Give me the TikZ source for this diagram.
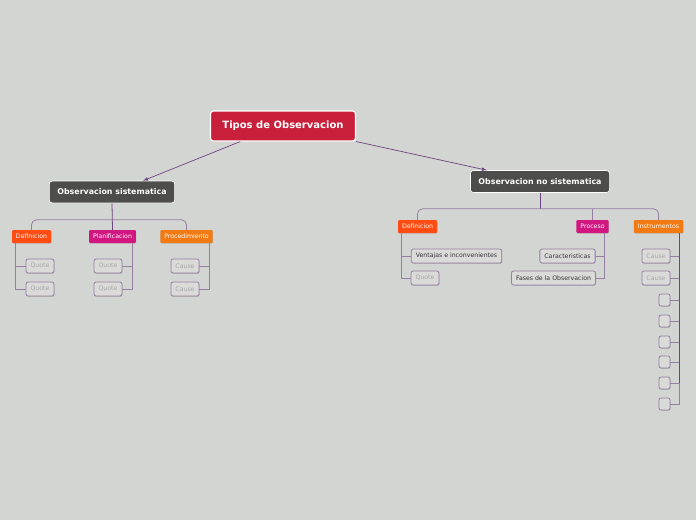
\documentclass[tikz,border=0pt]{standalone}
\usepackage{fontspec}
\setmainfont{DejaVu Sans}
\usetikzlibrary{shadows}

\definecolor{bgcol}{HTML}{D3D5D2}
\definecolor{rootcol}{HTML}{C8203A}
\definecolor{darkcol}{HTML}{4D4D4B}
\definecolor{defcol}{HTML}{FF4C12}
\definecolor{magcol}{HTML}{D1167F}
\definecolor{orgcol}{HTML}{F17A12}
\definecolor{linecol}{HTML}{6E4480}
\definecolor{leafcol}{HTML}{957FA3}
\definecolor{greytext}{HTML}{A6A6A6}
\definecolor{darktext}{HTML}{333333}

\tikzset{
  root/.style={draw=white, line width=1.2pt, fill=rootcol, rounded corners=3pt,
    text=white, font=\bfseries\fontsize{10}{12}\selectfont,
    minimum height=30, inner xsep=12pt},
  maintopic/.style={draw=white, line width=0.6pt, fill=darkcol, rounded corners=3pt,
    text=white, font=\bfseries\fontsize{7.9}{9}\selectfont,
    minimum height=22, inner xsep=8pt},
  subtopic/.style={rounded corners=1pt, text=white,
    font=\fontsize{6.2}{7}\selectfont, minimum height=13, inner xsep=4pt, inner ysep=0pt,
    drop shadow={shadow xshift=0.5pt, shadow yshift=-0.7pt, opacity=0.3}},
  leaf/.style={draw=leafcol, line width=0.8pt, fill=bgcol!85!white, rounded corners=2pt,
    text=greytext, font=\fontsize{6.2}{7}\selectfont, minimum height=14, inner xsep=4.5pt, inner ysep=0pt,
    drop shadow={shadow xshift=0.5pt, shadow yshift=-0.8pt, opacity=0.35}},
  mainline/.style={draw=linecol, line width=0.8pt},
  barline/.style={draw=leafcol, line width=0.8pt},
  leafline/.style={draw=leafcol, line width=0.7pt},
  arrowline/.style={draw=linecol, line width=0.7pt, -latex},
}

\begin{document}
\begin{tikzpicture}[x=1pt,y=-1pt]
  \fill[bgcol] (0,0) rectangle (696,520);
  \useasboundingbox (0,0) rectangle (696,520);

  % central topic
  \node[root] (tipos) at (283,126) {Tipos de Observacion};
  \node[maintopic] (sist) at (112,192) {Observacion sistematica};
  \node[maintopic] (nosist) at (540,181.5) {Observacion no sistematica};
  \draw[arrowline] (tipos.200) -- (sist.20);
  \draw[arrowline] (tipos.-12) -- (nosist.168);

  % left branch
  \node[subtopic, fill=defcol] (ldef) at (31.5,236.5) {Definicion};
  \node[subtopic, fill=magcol] (lpla) at (112.5,236.5) {Planificacion};
  \node[subtopic, fill=orgcol] (lpro) at (186.5,236.5) {Procedimiento};
  \draw[barline, rounded corners=5pt] (ldef.north) -- ++(0,-10) -| (lpro.north);
  \draw[mainline] (sist.south) -- (lpla.north);

  \node[leaf] (lq1) at (40,266) {Quote};
  \node[leaf] (lq2) at (40,289) {Quote};
  \node[leaf] (pq1) at (108,266) {Quote};
  \node[leaf] (pq2) at (108,289) {Quote};
  \node[leaf] (pc1) at (185,266) {Cause};
  \node[leaf] (pc2) at (185,289) {Cause};
  \draw[leafline] (ldef.south west) ++(4,0) |- (lq1.west);
  \draw[leafline] (ldef.south west) ++(4,0) |- (lq2.west);
  \draw[leafline] (lpla.south east) ++(-4,0) |- (pq1.east);
  \draw[leafline] (lpla.south east) ++(-4,0) |- (pq2.east);
  \draw[leafline] (lpro.south east) ++(-4,0) |- (pc1.east);
  \draw[leafline] (lpro.south east) ++(-4,0) |- (pc2.east);

  % right branch
  \node[subtopic, fill=defcol] (rdef) at (417.5,226.5) {Definicion};
  \node[subtopic, fill=magcol] (rproc) at (592.5,226.5) {Proceso};
  \node[subtopic, fill=orgcol] (rins) at (658.5,226.5) {Instrumentos};
  \draw[mainline] (nosist.south) -- ++(0,16) coordinate (rbar);
  \draw[barline, rounded corners=5pt] (rdef.north) |- (rbar) -| (rins.north);
  \draw[barline] (rproc.north) -- (rproc.north |- rbar);

  \node[leaf, text=darktext] (ven) at (456.5,256) {Ventajas e inconvenientes};
  \node[leaf] (rq) at (425,278) {Quote};
  \node[leaf, text=darktext] (car) at (567.5,256) {Caracteristicas};
  \node[leaf, text=darktext] (fas) at (553.5,278) {Fases de la Observacion};
  \draw[leafline] (rdef.south west) ++(4,0) |- (ven.west);
  \draw[leafline] (rdef.south west) ++(4,0) |- (rq.west);
  \draw[leafline] (rproc.south east) ++(-4,0) |- (car.east);
  \draw[leafline] (rproc.south east) ++(-4,0) |- (fas.east);

  \node[leaf] (ic1) at (656,256) {Cause};
  \node[leaf] (ic2) at (656,278) {Cause};
  \draw[leafline] (rins.south east) ++(-4,0) |- (ic1.east);
  \draw[leafline] (rins.south east) ++(-4,0) |- (ic2.east);
  \foreach \y [count=\i] in {300,321,342,362,383,404} {
    \node[leaf, minimum width=11, minimum height=12, inner xsep=0pt] (e\i) at (664.5,\y) {};
    \draw[leafline] (rins.south east) ++(-4,0) |- (e\i.east);
  }
  \draw[mainline] (rins.south east) ++(-4,0) -- ([xshift=-4pt]rins.south east |- e5.east);
\end{tikzpicture}
\end{document}
